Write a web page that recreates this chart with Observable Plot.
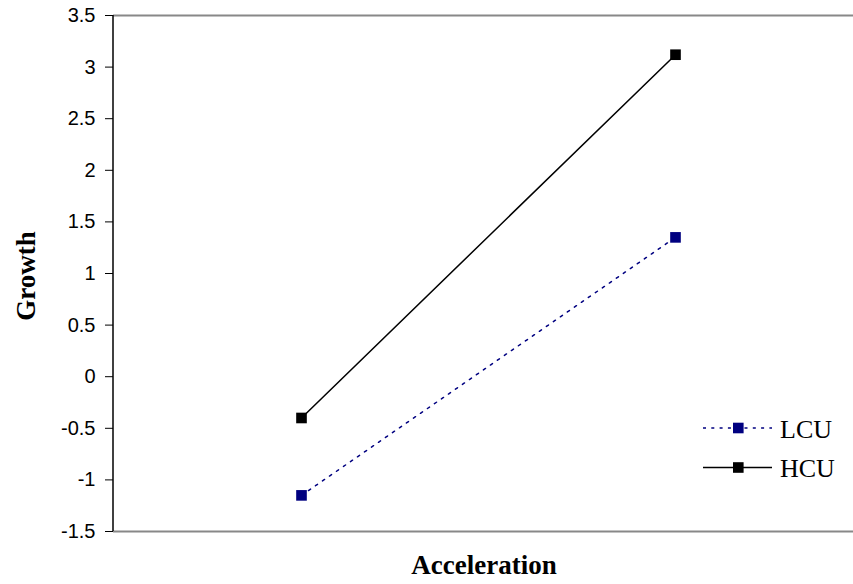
<!DOCTYPE html>
<html>
<head>
<meta charset="utf-8">
<script src="https://cdn.jsdelivr.net/npm/d3@7"></script>
<script src="https://cdn.jsdelivr.net/npm/@observablehq/plot@0.6"></script>
<style>
  html, body { margin: 0; padding: 0; background: #fff; }
  #chart svg { display: block; }
</style>
</head>
<body>
<div id="chart"></div>
<script>
const categories = ["Low", "High"];
const seriesNames = ["LCU", "HCU"];
const lcuValues = [-1.15, 1.35];
const hcuValues = [-0.4, 3.12];
const yTicks = [-1.5, -1, -0.5, 0, 0.5, 1, 1.5, 2, 2.5, 3, 3.5];
const yLabel = "Growth";
const xLabel = "Acceleration";

const colors = {LCU: "#000080", HCU: "#000000"};
const data = [
  ...categories.map((c, i) => ({cat: c, value: lcuValues[i], series: "LCU"})),
  ...categories.map((c, i) => ({cat: c, value: hcuValues[i], series: "HCU"}))
];
const lcu = data.filter(d => d.series === "LCU");
const hcu = data.filter(d => d.series === "HCU");

const W = 853, H = 584, mL = 113, mT = 15, mB = 53;
const serif = "Liberation Serif, Times New Roman, serif";

const chart = Plot.plot({
  width: W,
  height: H,
  marginLeft: mL,
  marginRight: 0,
  marginTop: mT,
  marginBottom: mB,
  style: {background: "#fff", overflow: "visible"},
  x: {type: "point", domain: categories, range: [114, 862], axis: null},
  y: {domain: [-1.5, 3.5], ticks: yTicks, label: null},
  marks: [
    Plot.ruleY([yTicks[0], yTicks[yTicks.length - 1]], {stroke: "#888", strokeWidth: 2}),
    Plot.axisY({
      ticks: yTicks,
      tickFormat: d => String(d),
      tickSize: 8,
      tickPadding: 10,
      label: null,
      fontSize: 20,
      fontFamily: "Liberation Sans, Arial, sans-serif",
      stroke: "#000",
      color: "#000"
    }),
    Plot.line(hcu, {x: "cat", y: "value", stroke: colors.HCU, strokeWidth: 1.5}),
    Plot.line(lcu, {x: "cat", y: "value", stroke: colors.LCU, strokeWidth: 1.5, strokeDasharray: "2.5,6"}),
    Plot.dot(data, {x: "cat", y: "value", symbol: "square", r: 6, fill: d => colors[d.series], stroke: "none"})
  ]
});

document.getElementById("chart").appendChild(chart);

const svg = d3.select(chart);
const yS = chart.scale("y");
// left axis line
svg.append("line")
  .attr("x1", mL).attr("x2", mL)
  .attr("y1", yS.apply(3.5)).attr("y2", yS.apply(-1.5))
  .attr("stroke", "#000").attr("stroke-width", 1.5);

// axis titles
svg.append("text")
  .attr("transform", `translate(35, 276) rotate(-90)`)
  .attr("text-anchor", "middle")
  .attr("font-family", serif)
  .attr("font-weight", "bold")
  .attr("font-size", 27)
  .text(yLabel);
svg.append("text")
  .attr("x", 484).attr("y", 574)
  .attr("text-anchor", "middle")
  .attr("font-family", serif)
  .attr("font-weight", "bold")
  .attr("font-size", 27)
  .text(xLabel);

// legend
const leg = svg.append("g");
seriesNames.forEach((s, i) => {
  const y = 428 + i * 39.5;
  leg.append("line")
    .attr("x1", 703).attr("x2", 772).attr("y1", y).attr("y2", y)
    .attr("stroke", colors[s]).attr("stroke-width", 1.5)
    .attr("stroke-dasharray", s === "LCU" ? "3,5.3" : null);
  leg.append("rect")
    .attr("x", 733).attr("y", y - 5.3).attr("width", 10.6).attr("height", 10.6)
    .attr("fill", colors[s]);
  leg.append("text")
    .attr("x", 780).attr("y", y + 9.5)
    .attr("text-anchor", "start")
    .attr("font-family", serif)
    .attr("font-size", 26)
    .text(s);
});
</script>
</body>
</html>
